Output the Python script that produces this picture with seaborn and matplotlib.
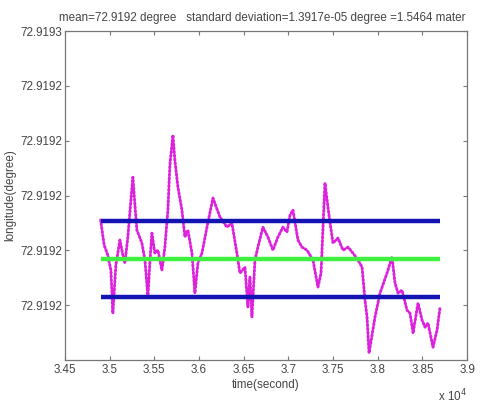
import numpy as np
import pandas as pd
import matplotlib
matplotlib.use("Agg")
import matplotlib.pyplot as plt
import seaborn as sns

# time (s) and longitude (degree)
time_s = [34900, 34940, 34980, 35015, 35037, 35071, 35116, 35149, 35172, 35205,
          35239, 35261, 35284, 35306, 35362, 35396, 35429, 35451, 35474, 35507,
          35541, 35586, 35619, 35653, 35675, 35709, 35731, 35765, 35810, 35843,
          35877, 35922, 35955, 35989, 36034, 36090, 36157, 36235, 36313, 36369,
          36425, 36459, 36515, 36548, 36571, 36593, 36627, 36660, 36716, 36772,
          36828, 36884, 36940, 36985, 37019, 37052, 37108, 37153, 37209, 37276,
          37332, 37366, 37410, 37455, 37500, 37556, 37612, 37668, 37724, 37780,
          37825, 37858, 37881, 37903, 37937, 37970, 38026, 38104, 38160, 38194,
          38228, 38272, 38328, 38362, 38396, 38451, 38496, 38530, 38563, 38619,
          38664, 38698]
longitude = [72.9192311, 72.9192219, 72.9192183, 72.9192128, 72.9191971, 72.9192147,
             72.9192238, 72.9192183, 72.9192154, 72.9192249, 72.9192384, 72.9192467,
             72.9192365, 72.9192274, 72.9192227, 72.9192165, 72.9192030, 72.9192157,
             72.9192263, 72.9192190, 72.9192201, 72.9192128, 72.9192212, 72.9192347,
             72.9192511, 72.9192621, 72.9192529, 72.9192431, 72.9192347, 72.9192249,
             72.9192274, 72.9192190, 72.9192044, 72.9192154, 72.9192190, 72.9192285,
             72.9192391, 72.9192322, 72.9192285, 72.9192300, 72.9192190, 72.9192117,
             72.9192139, 72.9191993, 72.9192103, 72.9191957, 72.9192165, 72.9192212,
             72.9192285, 72.9192249, 72.9192201, 72.9192249, 72.9192285, 72.9192267,
             72.9192329, 72.9192347, 72.9192238, 72.9192212, 72.9192201, 72.9192165,
             72.9192066, 72.9192117, 72.9192446, 72.9192329, 72.9192227, 72.9192245,
             72.9192201, 72.9192212, 72.9192190, 72.9192165, 72.9192139, 72.9192019,
             72.9191957, 72.9191826, 72.9191891, 72.9191957, 72.9192044, 72.9192117,
             72.9192176, 72.9192081, 72.9192044, 72.9192055, 72.9191982, 72.9191971,
             72.9191898, 72.9192008, 72.9191946, 72.9191920, 72.9191935, 72.9191847,
             72.9191909, 72.9191993]

mean_lon = 72.919217
std_lon = 1.3917e-05
t_start, t_end = 34900, 38700

xticks = [34500, 35000, 35500, 36000, 36500, 37000, 37500, 38000, 38500, 39000]
xtick_labels = ["3.45", "3.5", "3.55", "3.6", "3.65", "3.7", "3.75", "3.8", "3.85", "3.9"]
yticks = [72.91920, 72.91922, 72.91924, 72.91926, 72.91928, 72.91930]
ytick_labels = ["72.9192", "72.9192", "72.9192", "72.9192", "72.9192", "72.9193"]

df = pd.DataFrame({"time": time_s, "lon": longitude})

sns.set_theme(style="white")
plt.rcParams["font.family"] = ["Liberation Sans", "DejaVu Sans"]

fig = plt.figure(figsize=(4.84, 4.05), dpi=100)
ax = fig.add_axes([0.134, 0.111, 0.831, 0.812])

# magenta dotted trace
sns.lineplot(data=df, x="time", y="lon", ax=ax, color="#dd22dd", linewidth=2.1,
             linestyle=(0, (0.5, 0.8)), dash_capstyle="round", zorder=2)

# mean and mean +/- std
ax.hlines([mean_lon + std_lon, mean_lon - std_lon], t_start, t_end,
          colors="#1414b4", linewidth=3.2, zorder=3)
ax.hlines([mean_lon], t_start, t_end, colors="#40f040", linewidth=3.2, zorder=3)

ax.set_xlim(34500, 39000)
ax.set_ylim(72.91918, 72.91930)
ax.set_xticks(xticks)
ax.set_xticklabels(xtick_labels)
ax.set_yticks(yticks)
ax.set_yticklabels(ytick_labels)

tc = "#444444"
fs = 8.4
ax.tick_params(direction="in", length=3, width=0.8, colors="#777777",
               labelcolor=tc, labelsize=fs, top=True, right=True,
               bottom=True, left=True, pad=3)
ax.tick_params(axis="y", pad=2)
for s in ax.spines.values():
    s.set_color("#777777")
    s.set_linewidth(0.9)

ax.set_xlabel("time(second)", fontsize=fs, color=tc, labelpad=2)
ax.set_ylabel("longitude(degree)", fontsize=fs, color=tc, labelpad=3)
ax.set_title("mean=72.9192 degree   standard deviation=1.3917e-05 degree =1.5464 mater",
             fontsize=fs, color=tc, pad=7, x=0.49)
ax.text(1.0, -0.085, r"x 10$^4$", transform=ax.transAxes, fontsize=fs,
        color=tc, ha="right", va="top")

plt.savefig("out.png", dpi=100)
